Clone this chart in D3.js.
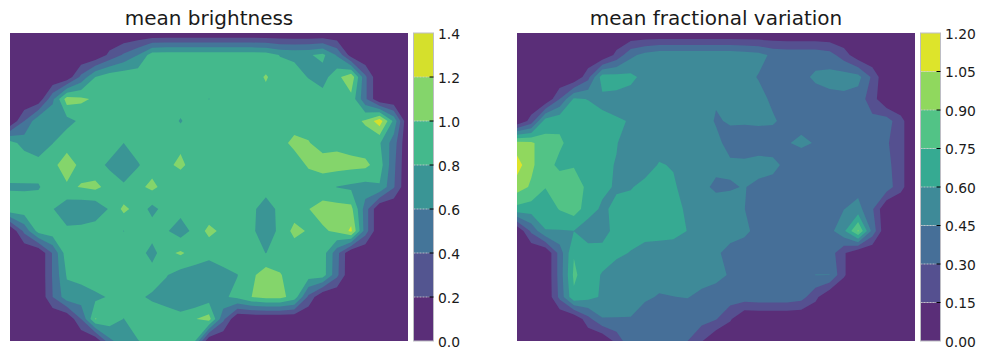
<!DOCTYPE html>
<html><head><meta charset="utf-8">
<script src="https://cdn.jsdelivr.net/npm/d3@7/dist/d3.min.js"></script>
<style>html,body{margin:0;padding:0;background:#fff}svg{display:block}text{font-family:"DejaVu Sans",sans-serif;fill:#1a1a1a}</style>
</head><body><svg id="chart" width="985" height="359"></svg>
<script>
const titles = ["mean brightness", "mean fractional variation"];
const brightnessLevels = [0,0.2,0.4,0.6,0.8,1.0,1.2,1.4];
const variationLevels = [0,0.15,0.30,0.45,0.60,0.75,0.90,1.05,1.20];
const brightnessColors = ["#5a2e78","#535590","#447599","#3a9595","#44b98c","#84d56b","#d5e02c"];
const variationColors = ["#5a2e78","#555090","#466f98","#3e8a98","#36aa92","#52c386","#90d85e","#dde42b"];
const brightness = [
[0,0,0,0,0,0,0,0,0,0,0,0,0,0,0,0,0,0,0,0,0,0,0,0,0,0,0,0,0],
[0,0,0,0,0,0,.02,.25,.43,.6,.9,.92,.92,.92,.92,.92,.92,.92,.9,.79,.76,.78,.85,.58,.1,0,0,0,0],
[0,0,0,0,.05,.45,.8,.92,.95,.93,.93,.93,.93,.93,.93,.93,.93,.93,1.015,.92,.88,.79,.71,.94,1.15,.44,0,0,0],
[0,0,.05,.55,1.1,1.04,.97,.93,.93,.93,.93,.93,.93,.93,.795,.93,.93,.93,.95,.93,.93,.93,.89,.93,.94,.44,0,0,0],
[0,.4,.75,.76,.73,.84,.93,.93,.93,.93,.93,.93,.78,.93,.93,.93,.93,.93,.93,.93,.93,.93,.93,.93,.92,1.03,1.32,.75,0],
[.88,.72,.61,.795,.92,.93,.93,.92,.8,.92,.93,.95,.95,.93,.93,.93,.93,.93,.93,.95,1.04,1.01,.93,.95,.92,.88,.82,.5,0],
[.93,.95,.91,.95,1.1,.95,.88,.76,.72,.78,.92,.95,1.05,.9,.93,.93,.93,.93,.93,.93,.92,1.02,1.08,1.08,1.06,1.05,.9,.45,0],
[.77,.77,.78,.93,.97,1.01,1.05,.93,.82,.95,1.05,.92,.82,.93,.93,.93,.93,.93,.93,.93,.92,.9,.87,.795,.76,.72,.78,.42,0],
[.95,.93,.93,.81,.67,.65,.65,.82,1.05,.92,.74,.88,.87,.93,.85,.93,.93,.87,.65,.88,.9,.995,1.08,1.08,1.06,.5,0,0,0],
[0,.45,.88,.93,.84,.86,.92,.93,.795,.93,.9,.82,.7,.86,1.06,.95,.93,.84,.68,.85,1.06,.98,.97,1.04,1.24,.5,0,0,0],
[0,0,0,.42,.92,.93,.93,.93,.93,.9,.72,.95,1.03,.92,.85,.94,.93,.92,.795,.92,.88,.93,.9,.47,0,0,0,0,0],
[0,0,0,.42,.82,.86,.95,.95,.93,.93,.9,.81,.72,.7,.7,.72,.795,.95,1.12,1.01,.93,.9,.9,.45,0,0,0,0,0],
[0,0,0,.4,.72,.72,.75,.82,.9,.83,.77,.72,.68,.62,.7,.77,.85,1.0,1.06,1.06,.92,.35,0,0,0,0,0,0,0],
[0,0,0,0,0,.4,1.01,.92,.795,.93,.92,.9,.86,.99,1.08,.45,0,0,0,0,0,0,0,0,0,0,0,0,0],
[0,0,0,0,0,0,0,.55,.72,.79,.9,.85,.9,.82,0,0,0,0,0,0,0,0,0,0,0,0,0,0,0]
];
const variation = [
[0,0,0,0,0,0,0,0,0,0,0,0,0,0,0,0,0,0,0,0,0,0,0,0,0,0,0,0,0],
[0,0,0,0,0,0,0,.194,.41,.5,.55,.55,.55,.55,.55,.55,.53,.5,.42,.4,.4,.4,.36,.22,.05,0,0,0,0],
[0,0,0,0,0,.25,.68,.66,.64,.55,.55,.55,.55,.54,.54,.54,.5,.44,.4,.4,.42,.47,.5,.52,.5,.27,0,0,0],
[0,0,0,.3,.62,.595,.56,.56,.53,.52,.52,.52,.52,.52,.46,.5,.52,.5,.42,.38,.38,.4,.408,.41,.38,.22,0,0,0],
[0,.21,.68,.72,.68,.68,.64,.61,.595,.52,.52,.52,.52,.5,.44,.46,.46,.47,.47,.4,.4,.38,.36,.36,.36,.34,.37,.2,0],
[.96,.93,.8,.77,.7,.68,.66,.605,.55,.55,.57,.55,.53,.5,.48,.41,.4,.38,.36,.44,.48,.44,.37,.37,.36,.35,.32,.2,0],
[1.12,.93,.8,.72,.74,.7,.62,.595,.55,.57,.605,.595,.55,.52,.5,.47,.47,.5,.5,.4,.35,.36,.36,.36,.36,.36,.35,.2,0],
[.97,.88,.755,.83,.82,.72,.64,.58,.595,.62,.66,.61,.57,.5,.41,.44,.455,.42,.38,.38,.37,.37,.37,.37,.4,.37,.38,.2,0],
[.7,.68,.66,.76,.82,.68,.57,.64,.63,.64,.66,.64,.58,.56,.56,.5,.452,.38,.36,.36,.36,.36,.37,.447,.5,.32,0,0,0],
[0,.33,.595,.59,.598,.5,.53,.66,.64,.64,.64,.63,.598,.55,.53,.5,.47,.42,.36,.36,.36,.37,.4,.57,.92,.4,0,0,0],
[0,0,0,.36,.74,.68,.66,.62,.595,.56,.55,.55,.55,.52,.47,.41,.4,.38,.36,.36,.36,.37,.38,.17,0,0,0,0,0],
[0,0,0,.36,.78,.66,.59,.55,.5,.5,.5,.5,.5,.5,.48,.44,.38,.37,.37,.37,.39,.452,.452,.17,0,0,0,0,0],
[0,0,0,.34,.72,.65,.58,.56,.54,.47,.44,.448,.455,.42,.4,.38,.38,.4,.4,.4,.36,.19,0,0,0,0,0,0,0],
[0,0,0,0,0,.25,.44,.44,.44,.38,.37,.36,.36,.36,.31,.17,0,0,0,0,0,0,0,0,0,0,0,0,0],
[0,0,0,0,0,0,0,.2,.42,.37,.36,.35,.3,.16,0,0,0,0,0,0,0,0,0,0,0,0,0,0,0]
];

const svg = d3.select("#chart");
const defs = svg.append("defs");
const cols = brightness[0].length, rows = brightness.length;

function panel(id, x0, grid, levels, colors, title, fmt, cbX) {
  const w = 398, yTop = 33, yBot = 341;
  const x = d3.scaleLinear().domain([0, cols-1]).range([x0, x0+w]);
  const y = d3.scaleLinear().domain([0, rows-1]).range([yTop, yBot]);
  defs.append("clipPath").attr("id", id).append("rect")
    .attr("x", x0).attr("y", yTop).attr("width", w).attr("height", yBot-yTop);
  const g = svg.append("g").attr("clip-path", `url(#${id})`);
  const color = d3.scaleOrdinal().domain(d3.range(colors.length)).range(colors);
  g.append("rect").attr("x", x0).attr("y", yTop).attr("width", w).attr("height", yBot-yTop).attr("fill", color(0));
  const flat = grid.flat();
  const gen = d3.contours().size([cols, rows]);
  const path = d3.geoPath(d3.geoTransform({ point(px, py) { this.stream.point(x(px-0.5), y(py-0.5)); } }));
  levels.slice(1, -1).forEach((lv, i) => {
    g.append("path").attr("d", path(gen.contour(flat, lv))).attr("fill", color(i+1));
  });
  svg.append("text").attr("x", x0+w/2).attr("y", 25).attr("text-anchor", "middle")
    .attr("font-size", 20).text(title);

  // colour bar
  const cbW = 20;
  const yc = d3.scaleLinear().domain([levels[0], levels[levels.length-1]]).range([yBot, yTop]);
  const cb = svg.append("g");
  cb.selectAll("rect").data(colors).join("rect")
    .attr("x", cbX).attr("width", cbW)
    .attr("y", (d,i) => yc(levels[i+1])).attr("height", (d,i) => yc(levels[i]) - yc(levels[i+1]))
    .attr("fill", d => d);
  cb.selectAll("line.div").data(levels.slice(1,-1)).join("line").attr("class","div")
    .attr("x1", cbX).attr("x2", cbX+cbW-4).attr("y1", d => yc(d)).attr("y2", d => yc(d))
    .attr("stroke", "#cfcfcf").attr("stroke-width", 0.8).attr("stroke-dasharray", "2 1");
  cb.append("rect").attr("x", cbX).attr("y", yTop).attr("width", cbW).attr("height", yBot-yTop)
    .attr("fill", "none").attr("stroke", "#bdbdc4").attr("stroke-width", 1);
  const axis = d3.axisRight(yc).tickValues(levels).tickFormat(fmt).tickSize(0).tickPadding(0);
  const ag = cb.append("g").attr("transform", `translate(${cbX+cbW+4.5},0)`).call(axis);
  ag.select(".domain").remove();
  ag.selectAll("text").attr("font-size", 13.89).attr("font-family", '"DejaVu Sans"').attr("fill","#1a1a1a").attr("x", 0).attr("dy","0.36em");
  cb.selectAll("line.tk").data(levels.slice(1,-1)).join("line").attr("class","tk")
    .attr("x1", cbX+cbW-4).attr("x2", cbX+cbW).attr("y1", d => yc(d)).attr("y2", d => yc(d))
    .attr("stroke", "#000").attr("stroke-width", 1);
}
panel("clipA", 10, brightness, brightnessLevels, brightnessColors, titles[0], d3.format(".1f"), 413.5);
panel("clipB", 517, variation, variationLevels, variationColors, titles[1], d3.format(".2f"), 920.5);
</script></body></html>
